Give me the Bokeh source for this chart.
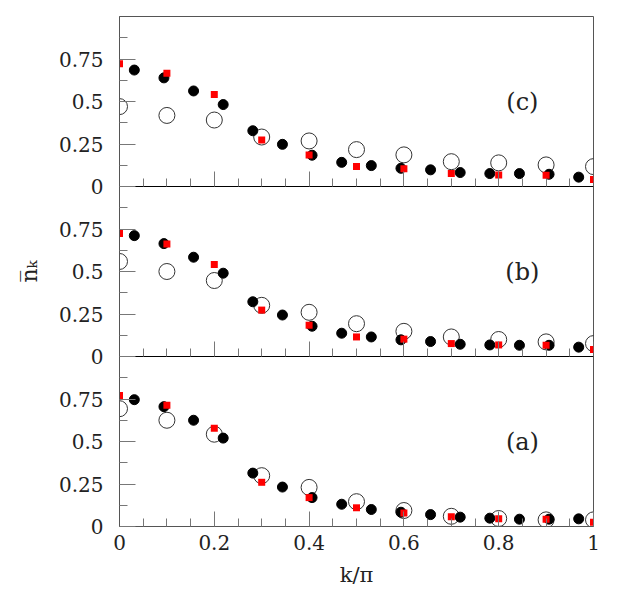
from bokeh.plotting import figure
from bokeh.models import FixedTicker, LinearAxis, Range1d, ColumnDataSource
from bokeh.embed import file_html
from bokeh.resources import INLINE
from bokeh.core.properties import value

# ---------------- data ----------------
k_fine = [0.03125, 0.09375, 0.15625, 0.21875, 0.28125, 0.34375, 0.40625, 0.46875,
          0.53125, 0.59375, 0.65625, 0.71875, 0.78125, 0.84375, 0.90625, 0.96875]
k_coarse = [0.0, 0.1, 0.2, 0.3, 0.4, 0.5, 0.6, 0.7, 0.8, 0.9, 1.0]

# panel (a)
a_filled = [0.746, 0.705, 0.625, 0.520, 0.314, 0.232, 0.170, 0.131,
            0.100, 0.084, 0.070, 0.055, 0.049, 0.043, 0.043, 0.045]
a_square = [0.771, 0.713, 0.578, 0.260, 0.170, 0.110, 0.080, 0.057, 0.045, 0.043, 0.025]
a_open = [0.693, 0.625, 0.543, 0.299, 0.230, 0.146, 0.094, 0.060, 0.047, 0.039, 0.039]

# panel (b)
b_filled = [0.711, 0.664, 0.584, 0.490, 0.322, 0.244, 0.178, 0.137,
            0.115, 0.098, 0.088, 0.072, 0.068, 0.066, 0.066, 0.055]
b_square = [0.723, 0.662, 0.541, 0.273, 0.184, 0.115, 0.102, 0.076, 0.068, 0.066, 0.041]
b_open = [0.559, 0.500, 0.447, 0.301, 0.260, 0.193, 0.148, 0.115, 0.100, 0.086, 0.076]

# panel (c)
c_filled = [0.685, 0.639, 0.562, 0.482, 0.328, 0.248, 0.184, 0.142,
            0.123, 0.107, 0.098, 0.082, 0.076, 0.076, 0.072, 0.055]
c_square = [0.722, 0.666, 0.541, 0.273, 0.186, 0.117, 0.104, 0.076, 0.068, 0.066, 0.041]
c_open = [0.470, 0.418, 0.391, 0.291, 0.268, 0.217, 0.186, 0.146, 0.139, 0.127, 0.117]

panel_names = ["(a)", "(b)", "(c)"]
panel_offsets = [0, 1, 2]
label_k = 0.85
label_n = 0.5

x_major = [0.0, 0.2, 0.4, 0.6, 0.8, 1.0]
x_tick_labels = ["0", "0.2", "0.4", "0.6", "0.8", "1"]
x_minor = [0.05, 0.1, 0.15, 0.25, 0.3, 0.35, 0.45, 0.5, 0.55,
           0.65, 0.7, 0.75, 0.85, 0.9, 0.95]
y_panel_major = [0.0, 0.25, 0.5, 0.75]
y_tick_labels = ["0", "0.25", "0.5", "0.75"]
y_panel_minor = [0.125, 0.375, 0.625, 0.875]

# ---------------- figure ----------------
FONT = "DejaVu Serif"
p = figure(frame_width=474, frame_height=510,
           x_range=Range1d(0, 1), y_range=Range1d(0, 3),
           output_backend="svg", toolbar_location=None,
           min_border_left=119, min_border_right=20,
           min_border_top=16, min_border_bottom=70)
p.grid.visible = False
p.outline_line_color = "#555555"
p.outline_line_width = 1
p.background_fill_color = "white"
p.border_fill_color = "white"

y_major, y_minor, y_over = [], [], {}
for off in panel_offsets:
    for t, lab in zip(y_panel_major, y_tick_labels):
        y_major.append(t + off)
        y_over[t + off] = lab
    for t in y_panel_minor:
        y_minor.append(t + off)

x_over = {t: lab for t, lab in zip(x_major, x_tick_labels)}


def style_x(ax, labels=True, line_color="#555555"):
    ax.ticker = FixedTicker(ticks=x_major, minor_ticks=x_minor)
    ax.major_tick_in = 15
    ax.major_tick_out = 0
    ax.minor_tick_in = 8
    ax.minor_tick_out = 0
    ax.major_tick_line_color = "#777777"
    ax.minor_tick_line_color = "#777777"
    ax.axis_line_color = line_color
    if labels:
        ax.major_label_overrides = x_over
        ax.major_label_text_font = FONT
        ax.major_label_text_font_size = "20px"
        ax.major_label_text_color = "#222222"
        ax.major_label_standoff = 8
    else:
        ax.major_label_overrides = {t: "" for t in x_major}
        ax.major_label_text_font_size = "0px"


style_x(p.xaxis[0])
p.xaxis[0].axis_label = "k/π"
p.xaxis[0].axis_label_text_font = FONT
p.xaxis[0].axis_label_text_font_style = "normal"
p.xaxis[0].axis_label_text_font_size = "21px"
p.xaxis[0].axis_label_text_color = "#222222"
p.xaxis[0].axis_label_standoff = 10

for off in panel_offsets[1:]:
    ax = LinearAxis(fixed_location=off)
    style_x(ax, labels=False, line_color="black")
    p.add_layout(ax, "below")

ya = p.yaxis[0]
ya.ticker = FixedTicker(ticks=y_major, minor_ticks=y_minor)
ya.major_label_overrides = y_over
ya.major_tick_in = 16
ya.major_tick_out = 0
ya.minor_tick_in = 8
ya.minor_tick_out = 0
ya.major_tick_line_color = "#777777"
ya.minor_tick_line_color = "#777777"
ya.axis_line_color = "#555555"
ya.major_label_text_font = FONT
ya.major_label_text_font_size = "20px"
ya.major_label_text_color = "#222222"
ya.major_label_standoff = 16
ya.axis_label = "n\u0305\u2096"
ya.axis_label_text_font = FONT
ya.axis_label_text_font_style = "normal"
ya.axis_label_text_font_size = "22px"
ya.axis_label_text_color = "#222222"
ya.axis_label_standoff = 14

# ---------------- marks ----------------
filled_all = [a_filled, b_filled, c_filled]
square_all = [a_square, b_square, c_square]
open_all = [a_open, b_open, c_open]

for off, fl, sq, op in zip(panel_offsets, filled_all, square_all, open_all):
    p.scatter(x=k_coarse, y=[v + off for v in op], marker="circle", size=16,
              fill_color=None, line_color="#333333", line_width=1)
    p.scatter(x=k_fine, y=[v + off for v in fl], marker="circle", size=10,
              fill_color="black", line_color="black")
    p.scatter(x=k_coarse, y=[v + off for v in sq], marker="square", size=7,
              fill_color="red", line_color=None)

lab_src = ColumnDataSource(dict(x=[label_k] * 3,
                                y=[label_n + off for off in panel_offsets],
                                t=panel_names))
p.text(x="x", y="y", text="t", source=lab_src, text_font=value(FONT),
       text_font_size="24px", text_align="center", text_baseline="middle",
       text_color="#222222")

open("out.html", "w").write(file_html(p, INLINE))
